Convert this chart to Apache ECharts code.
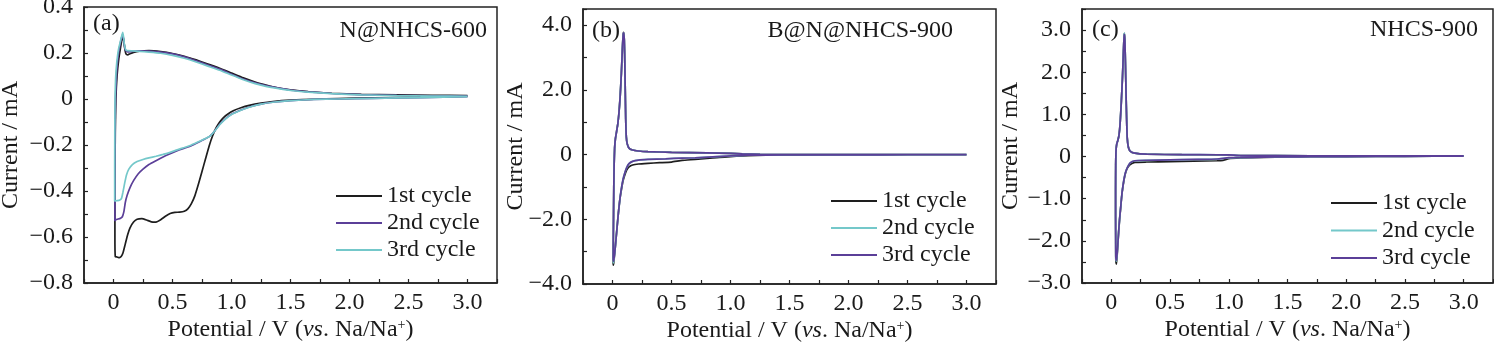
<!DOCTYPE html>
<html>
<head>
<meta charset="utf-8">
<script src="https://cdn.jsdelivr.net/npm/echarts@6/dist/echarts.min.js"></script>
<style>
  html, body { margin: 0; padding: 0; background: #fff; }
  #chart { width: 1494px; height: 344px; }
</style>
</head>
<body>
<div id="chart"></div>
<script>
// ---- labels ----
const cycleNames = ['1st cycle', '2nd cycle', '3rd cycle'];
const sampleNames = ['N@NHCS-600', 'B@N@NHCS-900', 'NHCS-900'];
const panelTags = ['(a)', '(b)', '(c)'];

// ---- cyclic voltammograms: [potential V vs Na/Na+, current mA] ----
// N@NHCS-600
const cvA1 = [
  [3.0, 0.012], [2.6, 0.008], [2.2, 0.005], [1.9, 0.002], [1.7, -0.001], [1.5, -0.005], [1.35, -0.011],
  [1.25, -0.018], [1.15, -0.028], [1.08, -0.038], [1.02, -0.05], [0.97, -0.065], [0.93, -0.082], [0.9, -0.1],
  [0.87, -0.125], [0.84, -0.16], [0.81, -0.205], [0.78, -0.26], [0.75, -0.315], [0.72, -0.37], [0.69, -0.42],
  [0.66, -0.455], [0.63, -0.478], [0.6, -0.488], [0.56, -0.492], [0.52, -0.493], [0.48, -0.498], [0.44, -0.51],
  [0.4, -0.525], [0.36, -0.535], [0.32, -0.534], [0.28, -0.526], [0.24, -0.52], [0.2, -0.523], [0.17, -0.535],
  [0.14, -0.56], [0.12, -0.59], [0.1, -0.63], [0.08, -0.67], [0.065, -0.685], [0.05, -0.69], [0.03, -0.687],
  [0.015, -0.685],
  [0.012, -0.6], [0.012, -0.45], [0.013, -0.3], [0.015, -0.15], [0.02, 0.0], [0.03, 0.1], [0.045, 0.175],
  [0.06, 0.225], [0.072, 0.26], [0.08, 0.272], [0.088, 0.25], [0.097, 0.215], [0.107, 0.195], [0.12, 0.192],
  [0.14, 0.197], [0.17, 0.203], [0.22, 0.208], [0.3, 0.21], [0.4, 0.206], [0.5, 0.198], [0.6, 0.186],
  [0.7, 0.17], [0.8, 0.152], [0.9, 0.134], [1.0, 0.113], [1.1, 0.092], [1.2, 0.074], [1.3, 0.06], [1.4, 0.048],
  [1.5, 0.04], [1.65, 0.032], [1.85, 0.025], [2.1, 0.02], [2.4, 0.018], [2.7, 0.016], [3.0, 0.015]
];
const cvA2 = [
  [3.0, 0.01], [2.6, 0.006], [2.2, 0.003], [1.9, 0.0], [1.7, -0.002], [1.5, -0.007], [1.35, -0.014],
  [1.25, -0.022], [1.15, -0.035], [1.07, -0.05], [1.0, -0.066], [0.95, -0.085], [0.9, -0.11], [0.86, -0.137],
  [0.82, -0.16], [0.77, -0.175], [0.72, -0.188], [0.66, -0.203], [0.6, -0.214], [0.54, -0.225], [0.48, -0.238],
  [0.42, -0.252], [0.36, -0.268], [0.3, -0.285], [0.25, -0.305], [0.21, -0.325], [0.17, -0.355], [0.14, -0.385],
  [0.115, -0.42], [0.1, -0.45], [0.088, -0.49], [0.075, -0.512], [0.06, -0.518], [0.04, -0.522], [0.02, -0.525],
  [0.012, -0.53], [0.012, -0.4], [0.012, -0.25], [0.014, -0.1], [0.018, 0.02], [0.027, 0.12], [0.04, 0.19],
  [0.055, 0.235], [0.068, 0.265], [0.077, 0.28], [0.084, 0.265], [0.092, 0.232], [0.102, 0.212], [0.12, 0.205],
  [0.16, 0.207], [0.22, 0.209], [0.3, 0.208], [0.4, 0.204], [0.5, 0.196], [0.6, 0.183], [0.7, 0.166],
  [0.8, 0.148], [0.9, 0.13], [1.0, 0.108], [1.1, 0.087], [1.2, 0.07], [1.3, 0.057], [1.4, 0.047], [1.5, 0.039],
  [1.65, 0.031], [1.85, 0.024], [2.1, 0.019], [2.4, 0.016], [2.7, 0.014], [3.0, 0.013]
];
const cvA3 = [
  [3.0, 0.01], [2.6, 0.006], [2.2, 0.003], [1.9, 0.0], [1.7, -0.002], [1.5, -0.007], [1.35, -0.014],
  [1.25, -0.022], [1.15, -0.036], [1.07, -0.051], [1.0, -0.067], [0.95, -0.086], [0.9, -0.112], [0.86, -0.138],
  [0.82, -0.16], [0.77, -0.174], [0.72, -0.186], [0.66, -0.2], [0.6, -0.211], [0.54, -0.221], [0.48, -0.232],
  [0.42, -0.241], [0.36, -0.249], [0.3, -0.256], [0.25, -0.263], [0.2, -0.272], [0.16, -0.285], [0.13, -0.305],
  [0.11, -0.33], [0.095, -0.365], [0.08, -0.405], [0.068, -0.432], [0.05, -0.44], [0.03, -0.442], [0.015, -0.443],
  [0.01, -0.445], [0.01, -0.3], [0.011, -0.15], [0.013, 0.0], [0.018, 0.09], [0.028, 0.16], [0.042, 0.215],
  [0.058, 0.25], [0.07, 0.275], [0.078, 0.29], [0.085, 0.27], [0.093, 0.235], [0.103, 0.215], [0.12, 0.21],
  [0.16, 0.209], [0.22, 0.207], [0.3, 0.204], [0.4, 0.199], [0.5, 0.19], [0.6, 0.177], [0.7, 0.161],
  [0.8, 0.143], [0.9, 0.125], [1.0, 0.104], [1.1, 0.084], [1.2, 0.067], [1.3, 0.054], [1.4, 0.045], [1.5, 0.037],
  [1.65, 0.03], [1.85, 0.023], [2.1, 0.018], [2.4, 0.015], [2.7, 0.013], [3.0, 0.012]
];

// B@N@NHCS-900
const cvB1 = [
  [3.0, 0.0], [2.5, -0.005], [2.1, -0.01], [1.6, -0.015], [1.3, -0.02], [1.15, -0.03], [1.05, -0.05],
  [0.95, -0.08], [0.85, -0.1], [0.7, -0.15], [0.59, -0.18], [0.5, -0.23], [0.4, -0.25], [0.3, -0.27],
  [0.22, -0.29], [0.17, -0.32], [0.14, -0.38], [0.12, -0.48], [0.105, -0.62], [0.09, -0.8], [0.075, -1.1],
  [0.062, -1.4], [0.05, -1.8], [0.04, -2.2], [0.03, -2.6], [0.02, -3.0], [0.012, -3.3], [0.007, -3.42],
  [0.005, -3.3], [0.007, -2.6], [0.009, -1.8], [0.011, -1.0], [0.014, -0.3], [0.018, 0.2], [0.025, 0.5],
  [0.035, 0.72], [0.045, 0.95], [0.055, 1.3], [0.065, 1.8], [0.075, 2.5], [0.083, 3.2], [0.09, 3.7],
  [0.095, 3.78], [0.1, 3.55], [0.104, 2.9], [0.108, 2.0], [0.112, 1.1], [0.117, 0.55], [0.125, 0.33],
  [0.14, 0.2], [0.17, 0.14], [0.22, 0.11], [0.3, 0.09], [0.5, 0.07], [0.8, 0.05], [1.0, 0.035], [1.1, 0.02],
  [1.25, 0.005], [1.5, 0.0], [2.0, 0.0], [3.0, 0.0]
];
const cvB2 = [
  [3.0, 0.0], [2.5, -0.004], [2.0, -0.008], [1.6, -0.012], [1.3, -0.015], [1.15, -0.02], [1.0, -0.045],
  [0.85, -0.07], [0.7, -0.1], [0.59, -0.11], [0.45, -0.13], [0.3, -0.15], [0.22, -0.17], [0.17, -0.21],
  [0.14, -0.28], [0.12, -0.4], [0.105, -0.55], [0.09, -0.75], [0.075, -1.05], [0.062, -1.4], [0.05, -1.8],
  [0.04, -2.2], [0.03, -2.6], [0.02, -3.0], [0.012, -3.25], [0.008, -3.35],
  [0.006, -3.25], [0.007, -2.6], [0.009, -1.8], [0.011, -1.0], [0.014, -0.3], [0.018, 0.2], [0.025, 0.5],
  [0.035, 0.72], [0.045, 0.95], [0.055, 1.3], [0.065, 1.8], [0.075, 2.5], [0.083, 3.2], [0.09, 3.68],
  [0.095, 3.76], [0.1, 3.55], [0.104, 2.9], [0.108, 2.0], [0.112, 1.1], [0.117, 0.55], [0.125, 0.33],
  [0.14, 0.2], [0.17, 0.14], [0.22, 0.11], [0.3, 0.09], [0.5, 0.07], [0.8, 0.05], [1.0, 0.035], [1.1, 0.02],
  [1.25, 0.005], [1.5, 0.0], [2.0, 0.0], [3.0, 0.0]
];
const cvB3 = [
  [3.0, 0.0], [2.5, -0.004], [2.0, -0.008], [1.6, -0.012], [1.3, -0.015], [1.15, -0.02], [1.0, -0.04],
  [0.85, -0.07], [0.7, -0.1], [0.59, -0.11], [0.45, -0.13], [0.3, -0.15], [0.22, -0.17], [0.17, -0.21],
  [0.14, -0.28], [0.12, -0.4], [0.105, -0.55], [0.09, -0.75], [0.075, -1.05], [0.062, -1.4], [0.05, -1.8],
  [0.04, -2.2], [0.03, -2.6], [0.02, -3.0], [0.012, -3.22], [0.008, -3.3],
  [0.006, -3.2], [0.007, -2.6], [0.009, -1.8], [0.011, -1.0], [0.014, -0.3], [0.018, 0.2], [0.025, 0.5],
  [0.035, 0.72], [0.045, 0.95], [0.055, 1.3], [0.065, 1.8], [0.075, 2.5], [0.083, 3.2], [0.09, 3.68],
  [0.095, 3.76], [0.1, 3.55], [0.104, 2.9], [0.108, 2.0], [0.112, 1.1], [0.117, 0.55], [0.125, 0.33],
  [0.14, 0.2], [0.17, 0.14], [0.22, 0.11], [0.3, 0.09], [0.5, 0.07], [0.8, 0.05], [1.0, 0.035], [1.1, 0.02],
  [1.25, 0.005], [1.5, 0.0], [2.0, 0.0], [3.0, 0.0]
];

// NHCS-900
const cvC1 = [
  [3.0, 0.01], [2.5, 0.005], [2.0, 0.0], [1.7, -0.005], [1.5, -0.01], [1.3, -0.02], [1.1, -0.035],
  [1.0, -0.05], [0.95, -0.09], [0.9, -0.1], [0.7, -0.11], [0.5, -0.12], [0.3, -0.13], [0.2, -0.14],
  [0.16, -0.19], [0.135, -0.28], [0.12, -0.4], [0.105, -0.6], [0.09, -0.9], [0.08, -1.2], [0.07, -1.5],
  [0.062, -1.8], [0.055, -2.1], [0.048, -2.4], [0.043, -2.55],
  [0.038, -2.45], [0.037, -2.0], [0.036, -1.4], [0.036, -0.8], [0.037, -0.2], [0.04, 0.15], [0.046, 0.3],
  [0.055, 0.38], [0.065, 0.5], [0.075, 0.8], [0.085, 1.3], [0.095, 1.9], [0.103, 2.5], [0.108, 2.85],
  [0.112, 2.92], [0.116, 2.7], [0.12, 2.2], [0.125, 1.5], [0.13, 0.9], [0.135, 0.45], [0.145, 0.22],
  [0.16, 0.13], [0.2, 0.08], [0.3, 0.055], [0.6, 0.045], [0.9, 0.04], [1.0, 0.035], [1.1, 0.025],
  [1.4, 0.02], [2.0, 0.015], [3.0, 0.015]
];
const cvC2 = [
  [3.0, 0.01], [2.5, 0.005], [2.0, 0.0], [1.7, -0.004], [1.5, -0.008], [1.3, -0.015], [1.1, -0.025],
  [1.0, -0.03], [0.9, -0.06], [0.7, -0.07], [0.5, -0.08], [0.3, -0.09], [0.2, -0.1], [0.16, -0.15],
  [0.14, -0.24], [0.12, -0.38], [0.105, -0.58], [0.09, -0.88], [0.08, -1.18], [0.07, -1.48], [0.062, -1.78],
  [0.055, -2.08], [0.048, -2.36], [0.043, -2.48],
  [0.038, -2.4], [0.037, -2.0], [0.036, -1.4], [0.036, -0.8], [0.037, -0.2], [0.04, 0.15], [0.046, 0.3],
  [0.055, 0.38], [0.065, 0.5], [0.075, 0.8], [0.085, 1.3], [0.095, 1.9], [0.103, 2.5], [0.108, 2.85],
  [0.112, 2.93], [0.116, 2.7], [0.12, 2.2], [0.125, 1.5], [0.13, 0.9], [0.135, 0.45], [0.145, 0.22],
  [0.16, 0.13], [0.2, 0.08], [0.3, 0.055], [0.6, 0.045], [0.9, 0.042], [1.0, 0.038], [1.1, 0.025],
  [1.4, 0.02], [2.0, 0.015], [3.0, 0.015]
];
const cvC3 = [
  [3.0, 0.01], [2.5, 0.005], [2.0, 0.0], [1.7, -0.004], [1.5, -0.008], [1.3, -0.015], [1.1, -0.022],
  [1.0, -0.028], [0.9, -0.058], [0.7, -0.068], [0.5, -0.078], [0.3, -0.088], [0.2, -0.1], [0.16, -0.15],
  [0.14, -0.24], [0.12, -0.38], [0.105, -0.58], [0.09, -0.88], [0.08, -1.18], [0.07, -1.48], [0.062, -1.78],
  [0.055, -2.08], [0.048, -2.34], [0.043, -2.46],
  [0.038, -2.38], [0.037, -2.0], [0.036, -1.4], [0.036, -0.8], [0.037, -0.2], [0.04, 0.15], [0.046, 0.3],
  [0.055, 0.38], [0.065, 0.5], [0.075, 0.8], [0.085, 1.3], [0.095, 1.9], [0.103, 2.5], [0.108, 2.82],
  [0.112, 2.9], [0.116, 2.7], [0.12, 2.2], [0.125, 1.5], [0.13, 0.9], [0.135, 0.45], [0.145, 0.22],
  [0.16, 0.13], [0.2, 0.08], [0.3, 0.055], [0.6, 0.045], [0.9, 0.042], [1.0, 0.038], [1.1, 0.025],
  [1.4, 0.02], [2.0, 0.015], [3.0, 0.015]
];

// ---- styling ----
const FONT = '"Liberation Serif", "Times New Roman", serif';
const INK = '#1a1a1a';
const BLACK = '#1e1e1e', PURPLE = '#5b3f98', CYAN = '#74c8ca';

const panels = [
  { key: 'a', cycles: [cvA1, cvA2, cvA3], colors: [BLACK, PURPLE, CYAN],
    grid: { left: 84, top: 7, width: 413, height: 276 },
    y: { min: -0.8, max: 0.4, step: 0.1, labelStep: 0.2 }, yNameGap: 61,
    tag: { x: 93, y: 24 }, sample: { x: 487, y: 31 }, legend: { left: 336, top: 184, gap: 3 } },
  { key: 'b', cycles: [cvB1, cvB2, cvB3], colors: [BLACK, CYAN, PURPLE],
    grid: { left: 583, top: 9, width: 413, height: 275 },
    y: { min: -4, max: 4.5, step: 1, labelStep: 2 }, yNameGap: 55,
    tag: { x: 592, y: 31 }, sample: { x: 953, y: 31 }, legend: { left: 831, top: 189, gap: 3 } },
  { key: 'c', cycles: [cvC1, cvC2, cvC3], colors: [BLACK, CYAN, PURPLE],
    grid: { left: 1082, top: 9, width: 411, height: 274 },
    y: { min: -3, max: 3.5, step: 0.5, labelStep: 1 }, yNameGap: 59,
    tag: { x: 1092, y: 30 }, sample: { x: 1478, y: 30 }, legend: { left: 1331, top: 191, gap: 3.5 } }
];

function numLabel(v) {
  if (Math.abs(v) < 1e-9) return '0';
  return (v < 0 ? '\u2212' : '') + Math.abs(v).toFixed(1);
}
function onStep(v, step) {
  const q = v / step;
  return Math.abs(q - Math.round(q)) < 1e-6;
}

const textBase = { fontFamily: FONT, fontSize: 24, color: INK };
const frame = { color: '#222', width: 1.5 };

const option = {
  animation: false,
  backgroundColor: '#fff',
  grid: panels.map(p => Object.assign({ show: true, borderColor: '#222', borderWidth: 1.5,
    backgroundColor: 'transparent', containLabel: false, outerBoundsMode: 'none' }, p.grid)),
  xAxis: panels.map((p, i) => ({
    type: 'value', gridIndex: i, min: -0.25, max: 3.25, interval: 0.25,
    axisLine: { show: true, onZero: false, lineStyle: frame },
    axisTick: { show: true, inside: true, length: 4, lineStyle: { color: '#222', width: 1.2 } },
    splitLine: { show: false },
    axisLabel: Object.assign({}, textBase, { margin: 8,
      formatter: v => (onStep(v, 0.5) && v > -1e-9 && v < 3.0001) ? numLabel(v) : '' }),
    name: 'Potential / V ({it|vs}. Na/Na{sup|+})',
    nameLocation: 'middle', nameGap: 35, nameMoveOverlap: false,
    nameTextStyle: Object.assign({}, textBase, {
      rich: {
        it: { fontFamily: FONT, fontSize: 24, fontStyle: 'italic', color: INK },
        sup: { fontFamily: FONT, fontSize: 14, color: INK, verticalAlign: 'top', lineHeight: 14 }
      } })
  })),
  yAxis: panels.map((p, i) => ({
    type: 'value', gridIndex: i, min: p.y.min, max: p.y.max, interval: p.y.step,
    axisLine: { show: true, onZero: false, lineStyle: frame },
    axisTick: { show: true, inside: true, length: 4, lineStyle: { color: '#222', width: 1.2 } },
    splitLine: { show: false },
    axisLabel: Object.assign({}, textBase, { margin: 11,
      formatter: v => onStep(v, p.y.labelStep) ? numLabel(v) : '' }),
    name: 'Current / mA', nameLocation: 'middle', nameGap: p.yNameGap, nameMoveOverlap: false,
    nameTextStyle: textBase
  })),
  legend: panels.map(p => ({
    orient: 'vertical', left: p.legend.left, top: p.legend.top, padding: 0,
    icon: 'rect', itemWidth: 46, itemHeight: 2, itemGap: p.legend.gap,
    selectedMode: false,
    data: cycleNames.map(n => p.key + '|' + n),
    formatter: n => n.split('|')[1],
    textStyle: Object.assign({}, textBase, { lineHeight: 24 })
  })),
  series: [],
  graphic: []
};

panels.forEach((p, i) => {
  p.cycles.forEach((data, c) => {
    option.series.push({
      type: 'line', name: p.key + '|' + cycleNames[c],
      xAxisIndex: i, yAxisIndex: i, data: data,
      showSymbol: false, symbol: 'none', smooth: 0.15,
      lineStyle: { color: p.colors[c], width: 1.7 },
      itemStyle: { color: p.colors[c] },
      z: 2 + c
    });
  });
  option.graphic.push({
    type: 'text', x: p.tag.x, y: p.tag.y,
    style: { text: panelTags[i], font: '24px ' + FONT, fill: INK, align: 'left', verticalAlign: 'middle' }
  });
  option.graphic.push({
    type: 'text', x: p.sample.x, y: p.sample.y,
    style: { text: sampleNames[i], font: '24px ' + FONT, fill: INK, align: 'right', verticalAlign: 'middle' }
  });
});

const chart = echarts.init(document.getElementById('chart'), null, { renderer: 'canvas' });
chart.setOption(option);
</script>
</body>
</html>
